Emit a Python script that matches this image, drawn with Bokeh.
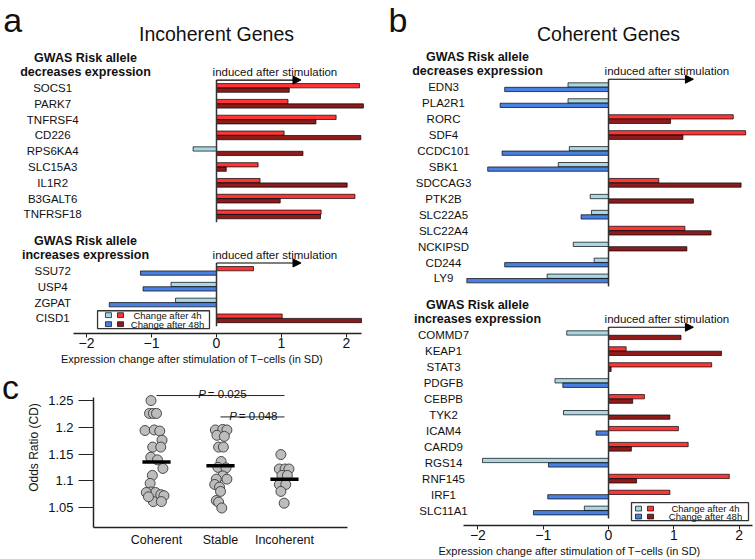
from bokeh.plotting import figure
from bokeh.models import Range1d, FixedTicker, Arrow, NormalHead
from bokeh.layouts import row, column
from bokeh.core.properties import value
from bokeh.embed import file_html
from bokeh.resources import INLINE

FONT = value("Liberation Sans")

# ---------------- data ----------------
# Panel a: incoherent genes
a_dec_genes = ["SOCS1", "PARK7", "TNFRSF4", "CD226", "RPS6KA4", "SLC15A3", "IL1R2", "B3GALT6", "TNFRSF18"]
a_dec_4h = [2.20, 1.10, 1.84, 1.04, -0.36, 0.64, 0.67, 2.13, 1.61]
a_dec_48h = [1.12, 2.26, 1.53, 2.22, 1.33, 0.15, 2.01, 0.98, 1.60]
a_inc_genes = ["SSU72", "USP4", "ZGPAT", "CISD1"]
a_inc_4h = [0.57, -0.70, -0.63, 1.01]
a_inc_48h = [-1.17, -1.13, -1.65, 2.23]

# Panel b: coherent genes
b_dec_genes = ["EDN3", "PLA2R1", "RORC", "SDF4", "CCDC101", "SBK1", "SDCCAG3", "PTK2B",
               "SLC22A5", "SLC22A4", "NCKIPSD", "CD244", "LY9"]
b_dec_4h = [-0.62, -0.62, 1.91, 2.10, -0.60, -0.77, 0.77, -0.28, -0.26, 1.17, -0.54, -0.22, -0.94]
b_dec_48h = [-1.59, -1.66, 0.95, 1.14, -1.63, -1.85, 2.03, 1.30, -0.42, 1.57, 1.20, -1.59, -2.17]
b_inc_genes = ["COMMD7", "KEAP1", "STAT3", "PDGFB", "CEBPB", "TYK2", "ICAM4", "CARD9",
               "RGS14", "RNF145", "IRF1", "SLC11A1"]
b_inc_4h = [-0.64, 0.27, 1.58, -0.82, 0.55, -0.69, 1.07, 1.22, -1.93, 1.85, 0.94, -0.37]
b_inc_48h = [1.11, 1.73, 0.04, -0.70, 0.37, 0.94, -0.19, 0.35, -0.92, 0.43, -0.93, -1.15]

x_ticks = [-2, -1, 0, 1, 2]
x_tick_labels = ["\u22122", "\u22121", "0", "1", "2"]
legend_labels = ["Change after 4h", "Change after 48h"]

# Panel c: odds ratios
groups = ["Coherent", "Stable", "Incoherent"]
coherent_or = [1.250, 1.226, 1.226, 1.226, 1.194, 1.195, 1.193, 1.176, 1.163, 1.163, 1.144, 1.139,
               1.123, 1.110, 1.095, 1.079, 1.078, 1.074, 1.078, 1.072, 1.061, 1.061, 1.070]
coherent_dx = [-0.086, -0.11, -0.05, 0.0, -0.18, -0.035, 0.05, 0.086, -0.06, 0.066, -0.09, 0.015,
               0.10, -0.065, -0.10, -0.09, -0.015, 0.066, -0.16, 0.116, -0.05, 0.076, -0.126]
stable_or = [1.195, 1.196, 1.195, 1.185, 1.183, 1.163, 1.163, 1.136, 1.125, 1.124, 1.109, 1.103,
             1.103, 1.093, 1.088, 1.080, 1.063, 1.060, 1.049]
stable_dx = [-0.08, 0.035, 0.10, -0.056, 0.06, -0.03, 0.045, 0.01, -0.04, 0.086, 0.035, -0.066,
             0.10, -0.09, -0.015, 0.0, -0.066, -0.03, 0.02]
incoherent_or = [1.149, 1.122, 1.122, 1.122, 1.110, 1.110, 1.093, 1.093, 1.080, 1.058]
incoherent_dx = [-0.056, -0.08, 0.01, 0.07, -0.04, 0.045, -0.08, 0.02, -0.056, -0.005]
medians = [1.135, 1.128, 1.103]
p_values = ["0.025", "0.048"]
p_pairs = [(1, 3), (2, 3)]
p_levels = [1.2594, 1.2194]
c_ticks = [1.05, 1.1, 1.15, 1.2, 1.25]
c_tick_labels = ["1.05", "1.1", "1.15", "1.2", "1.25"]

# ---------------- styles ----------------
C4P, C48P, C4N, C48N = "#FF3535", "#8E1B1B", "#A9D8E4", "#4A80E2"
TXT = "#111111"


def new_fig(w, h, xr, yr, **kw):
    p = figure(width=w, height=h, x_range=xr, y_range=yr, output_backend="svg",
               toolbar_location=None, **kw)
    p.grid.visible = False
    p.outline_line_color = None
    p.background_fill_color = "white"
    p.border_fill_color = "white"
    p.frame_align = False
    return p


def txt(p, x, y, t, size, align="center", baseline="middle", style="normal"):
    p.text(x=x, y=y, text=t, text_font=FONT, text_font_size=value(size),
           text_align=align, text_baseline=baseline, text_font_style=style, text_color=TXT)


def style_x_axis(p, bounds):
    ax = p.xaxis[0]
    ax.ticker = FixedTicker(ticks=x_ticks)
    ax.major_label_overrides = {t: l for t, l in zip(x_ticks, x_tick_labels)}
    ax.bounds = bounds
    ax.axis_label = "Expression change after stimulation of T\u2212cells (in SD)"
    ax.axis_label_text_font = "Liberation Sans"
    ax.axis_label_text_font_style = "normal"
    ax.axis_label_text_font_size = "11px"
    ax.axis_label_standoff = 2
    ax.major_label_text_font = "Liberation Sans"
    ax.major_label_text_font_size = "14px"
    ax.major_label_standoff = 0
    ax.minor_tick_line_color = None
    ax.major_tick_in = 0
    ax.major_tick_out = 4
    ax.axis_line_width = 1.5
    ax.axis_line_color = "#222222"
    ax.major_tick_line_color = "#222222"
    ax.major_label_text_color = TXT
    ax.axis_label_text_color = TXT


def gene_group(p, genes, v4, v48, first, label_x, head_x, direction):
    rows = [first + i for i in range(len(genes))]
    p.hbar(y=[r - 0.14 for r in rows], left=0, right=v4, height=0.27,
           fill_color=[C4P if v >= 0 else C4N for v in v4], line_color="black", line_width=0.7)
    p.hbar(y=[r + 0.14 for r in rows], left=0, right=v48, height=0.27,
           fill_color=[C48P if v >= 0 else C48N for v in v48], line_color="black", line_width=0.7)
    txt(p, [label_x] * len(genes), rows, genes, "11.5px")
    p.segment(x0=[0], y0=[first - 0.5], x1=[0], y1=[rows[-1] + 0.5], line_color="#333333", line_width=1.5)
    p.add_layout(Arrow(end=NormalHead(size=8, fill_color="black", line_color="black"),
                       x_start=0, y_start=first - 0.5, x_end=1.3, y_end=first - 0.5,
                       line_color="black", line_width=1.2))
    txt(p, [-0.06], [first - 1.0], ["induced after stimulation"], "11.5px", align="left")
    txt(p, [head_x, head_x], [first - 1.87, first - 1.02],
        ["GWAS Risk allele", direction + " expression"], "12.5px", style="bold")


def legend_box(p, x0, x1, y0, y1, sw1, sw2, sww, ry, swh, tx):
    p.quad(left=[x0], right=[x1], top=[y0], bottom=[y1], fill_color="white",
           line_color="#333333", line_width=1.3)
    p.quad(left=[sw1, sw1], right=[sw1 + sww] * 2, top=[r - swh / 2 for r in ry],
           bottom=[r + swh / 2 for r in ry], fill_color=[C4N, C48N], line_color="black", line_width=0.7)
    p.quad(left=[sw2, sw2], right=[sw2 + sww] * 2, top=[r - swh / 2 for r in ry],
           bottom=[r + swh / 2 for r in ry], fill_color=[C4P, C48P], line_color="black", line_width=0.7)
    txt(p, [tx, tx], ry, legend_labels, "9.5px")


# ---------------- panel a ----------------
pa = new_fig(383, 367, Range1d(-3.323, 2.569), Range1d(15.53, -5.53), y_axis_location=None,
             min_border_left=0, min_border_right=0, min_border_top=0, min_border_bottom=0)
style_x_axis(pa, (-2.2, 2.23))
gene_group(pa, a_dec_genes, a_dec_4h, a_dec_48h, 0, -2.52, -2.015, "decreases")
gene_group(pa, a_inc_genes, a_inc_4h, a_inc_48h, 11.57, -2.52, -2.015, "increases")
legend_box(pa, -1.83, -0.108, 14.09, 15.22, -1.708, -1.523, 0.092, [14.37, 14.94], 0.31, -0.754)
txt(pa, [0], [-3.4], ["Incoherent Genes"], "19.5px")
txt(pa, [-3.28], [-4.28], ["a"], "34px", align="left", baseline="middle")

# ---------------- panel b ----------------
pb = new_fig(372, 559, Range1d(-3.446, 2.251), Range1d(27.5, -5.44), y_axis_location=None,
             min_border_left=0, min_border_right=0, min_border_top=0, min_border_bottom=0)
style_x_axis(pb, (-2.22, 2.2))
gene_group(pb, b_dec_genes, b_dec_4h, b_dec_48h, 0, -2.527, -2.006, "decreases")
gene_group(pb, b_inc_genes, b_inc_4h, b_inc_48h, 15.56, -2.527, -2.006, "increases")
legend_box(pb, 0.352, 2.144, 26.06, 27.19, 0.413, 0.597, 0.092, [26.44, 26.94], 0.3, 1.485)
txt(pb, [0], [-3.31], ["Coherent Genes"], "19.5px")
txt(pb, [-3.37], [-4.19], ["b"], "34px", align="left", baseline="middle")

# ---------------- panel c ----------------
c_yr = Range1d(1.0125, 1.3119)
pl = new_fig(24, 192, Range1d(0, 1), c_yr, x_axis_location=None, y_axis_location=None,
             min_border_left=0, min_border_right=0, min_border_top=0, min_border_bottom=32)
txt(pl, [0.06], [1.2759], ["c"], "34px", align="left", baseline="middle")

pc = new_fig(359, 192, Range1d(0.015, 3.985), c_yr,
             min_border_left=61, min_border_right=36, min_border_top=0, min_border_bottom=32)
pts_x, pts_y = [], []
for gi, (vals, dx) in enumerate([(coherent_or, coherent_dx), (stable_or, stable_dx),
                                 (incoherent_or, incoherent_dx)]):
    pts_x += [gi + 1 + d for d in dx]
    pts_y += vals
pc.scatter(x=pts_x, y=pts_y, size=10, fill_color="#BDBDBD", line_color="#3A3A3A", line_width=0.9)
pc.segment(x0=[i + 1 - 0.22 for i in range(3)], x1=[i + 1 + 0.22 for i in range(3)],
           y0=medians, y1=medians, line_color="black", line_width=3.5)
pc.segment(x0=[a for a, b in p_pairs], x1=[b for a, b in p_pairs], y0=p_levels, y1=p_levels,
           line_color="#222222", line_width=1)
p_x = [1.652, 2.136]
txt(pc, p_x, [l + 0.0022 for l in p_levels], ["P", "P"], "11.5px", align="left",
    baseline="alphabetic", style="italic")
txt(pc, [x + 0.15 for x in p_x], [l + 0.0022 for l in p_levels], ["= " + v for v in p_values], "11.5px",
    align="left", baseline="alphabetic")

xa = pc.xaxis[0]
xa.ticker = FixedTicker(ticks=[1, 2, 3])
xa.major_label_overrides = {i + 1: g for i, g in enumerate(groups)}
xa.major_tick_out = 0
xa.major_tick_in = 0
xa.minor_tick_line_color = None
xa.major_label_standoff = 5
xa.major_label_text_font = "Liberation Sans"
xa.major_label_text_font_size = "12.5px"
xa.major_label_text_color = TXT
xa.axis_line_width = 1.5
xa.axis_line_color = "#222222"

ya = pc.yaxis[0]
ya.ticker = FixedTicker(ticks=c_ticks)
ya.major_label_overrides = {t: l for t, l in zip(c_ticks, c_tick_labels)}
ya.bounds = (1.0125, 1.255)
ya.major_tick_out = 15
ya.major_tick_in = 0
ya.minor_tick_line_color = None
ya.major_label_standoff = 5
ya.major_label_text_font = "Liberation Sans"
ya.major_label_text_font_size = "13px"
ya.major_label_text_color = TXT
ya.axis_label = "Odds Ratio (CD)"
ya.axis_label_text_font = "Liberation Sans"
ya.axis_label_text_font_style = "normal"
ya.axis_label_text_font_size = "12px"
ya.axis_label_text_color = TXT
ya.axis_label_standoff = 4
ya.axis_line_width = 1.5
ya.axis_line_color = "#222222"
ya.major_tick_line_color = "#222222"

layout = row(column(pa, row(pl, pc, spacing=0), spacing=0), pb, spacing=0)
open("out.html", "w").write(file_html(layout, INLINE))
